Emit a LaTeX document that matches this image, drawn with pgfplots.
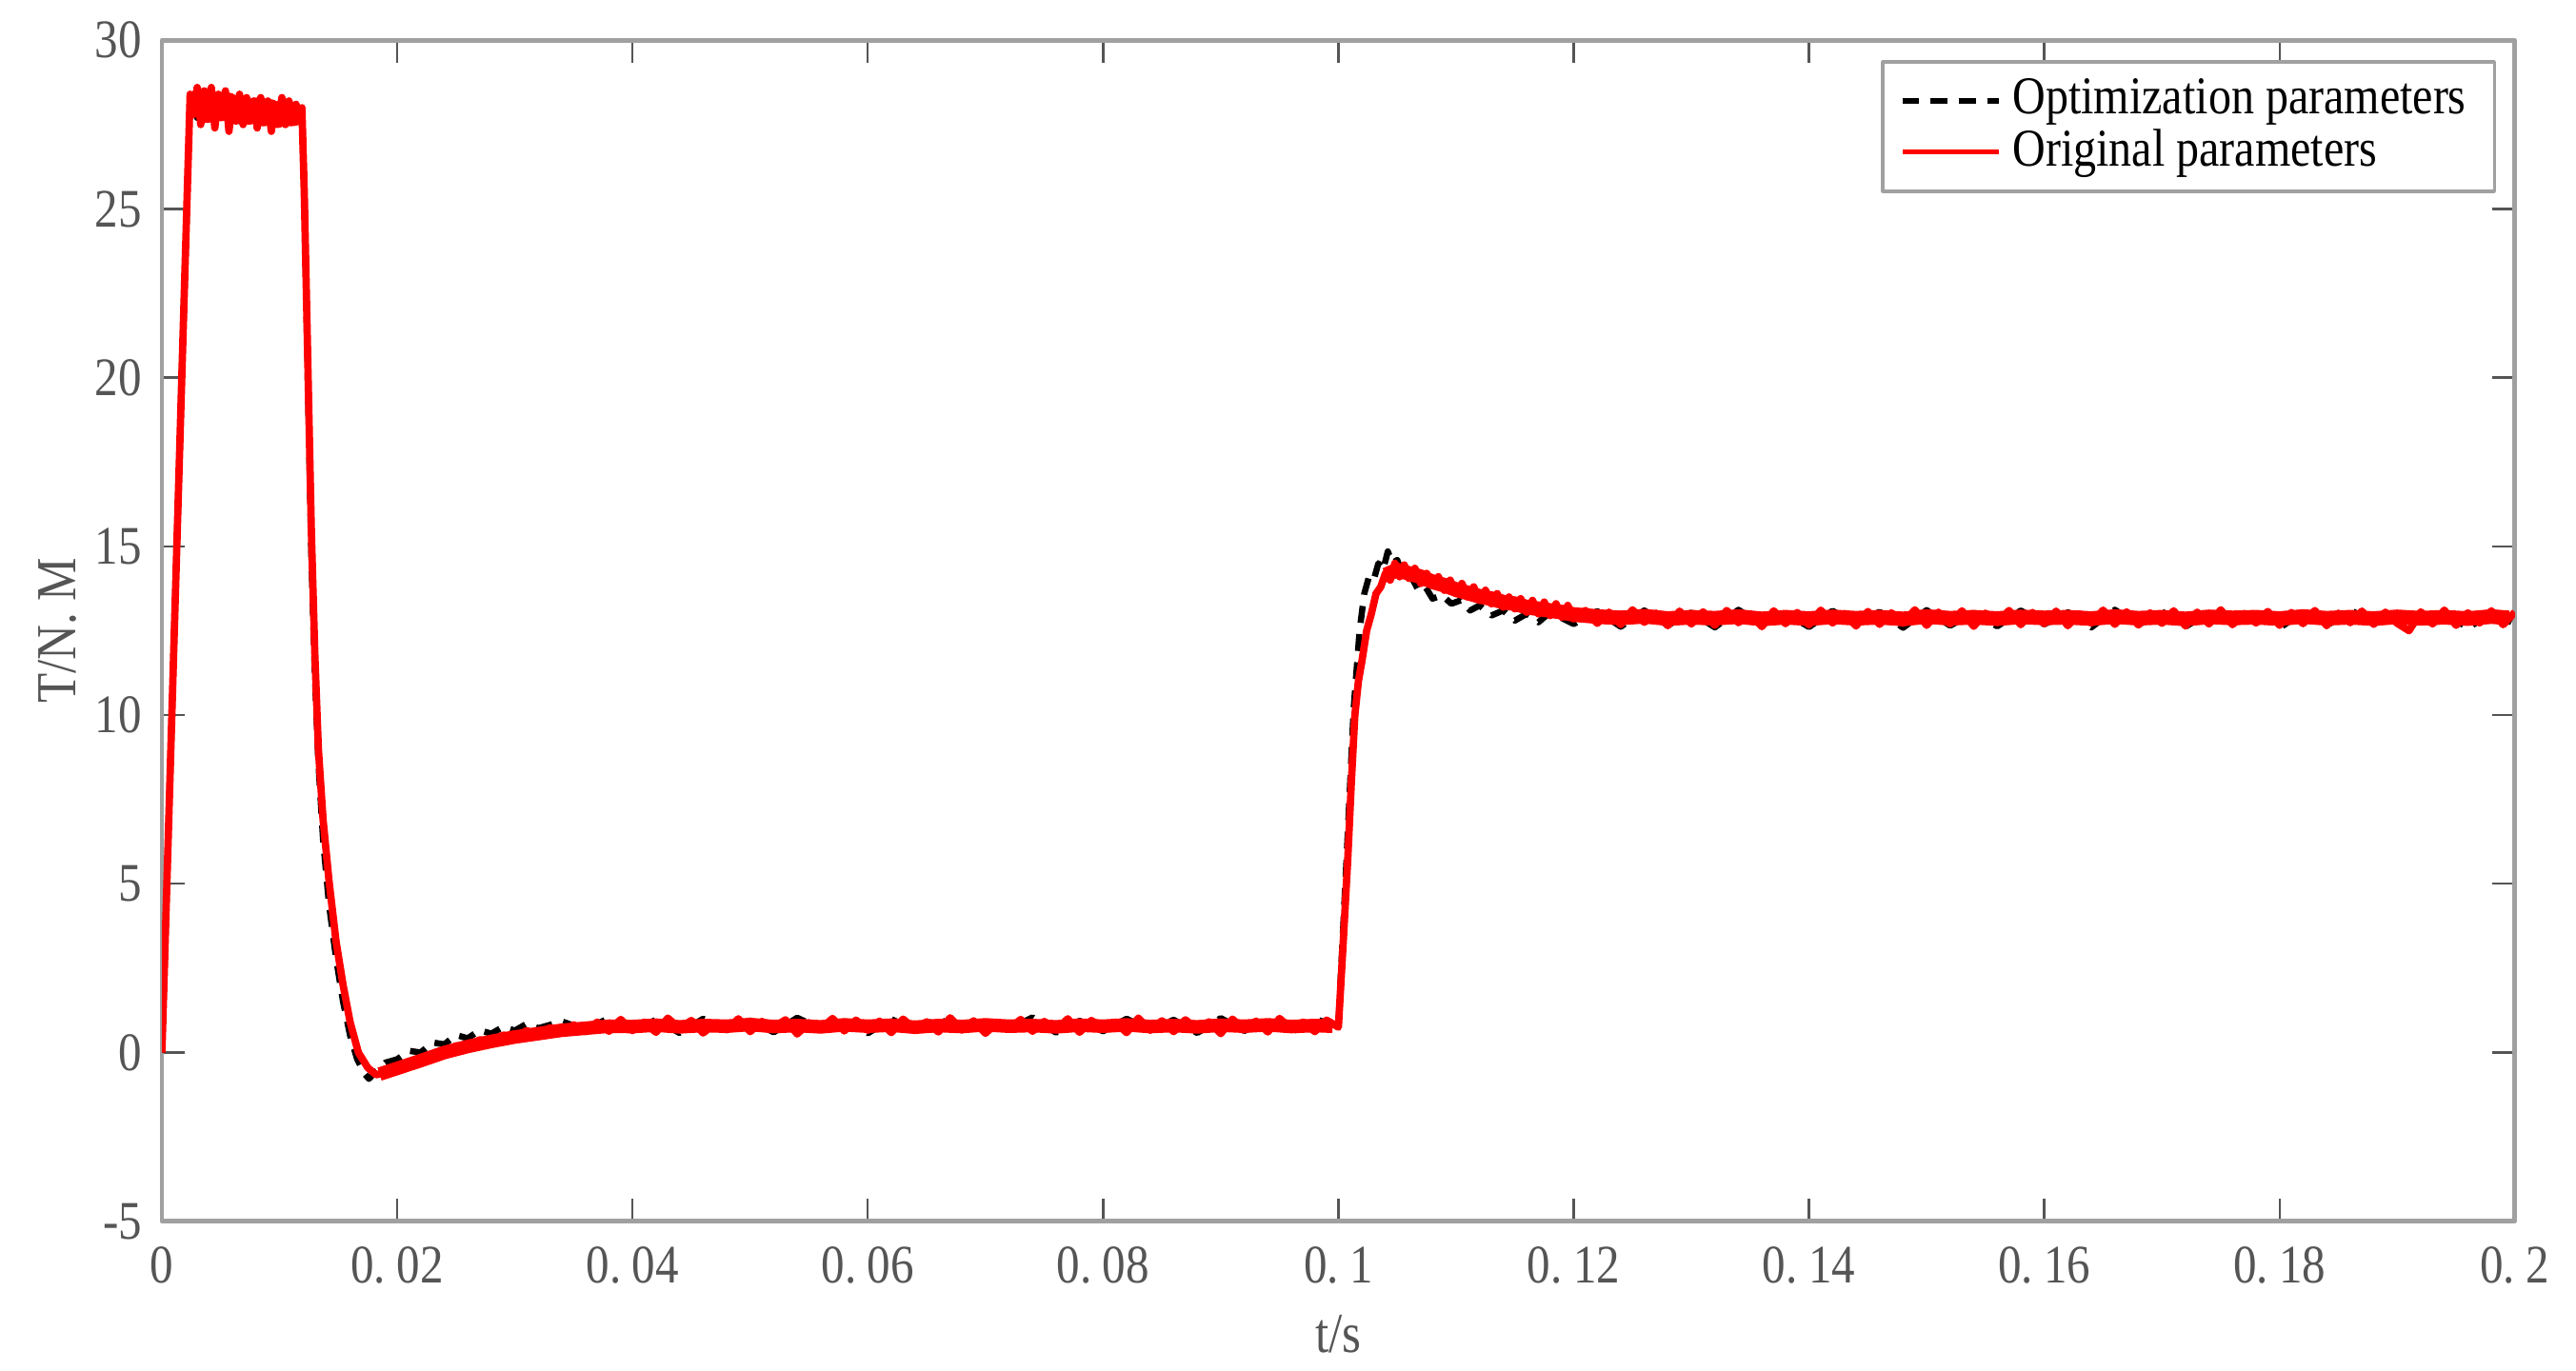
\documentclass[border=0pt]{standalone}
\usepackage{fontspec}
\setmainfont[FakeStretch=0.86]{Liberation Serif}
\usepackage{pgfplots}
\pgfplotsset{compat=1.18}
\definecolor{axgray}{RGB}{160,160,160}
\definecolor{lblgray}{RGB}{85,85,85}
\begin{document}
\begin{tikzpicture}
\begin{axis}[
  scale only axis, width=14.62cm, height=7.34cm,
  xmin=0, xmax=0.2, ymin=-5, ymax=30,
  xtick={0,0.02,...,0.2},
  xticklabels={0,0.\hspace{0.2em}02,0.\hspace{0.2em}04,0.\hspace{0.2em}06,0.\hspace{0.2em}08,0.\hspace{0.2em}1,0.\hspace{0.2em}12,0.\hspace{0.2em}14,0.\hspace{0.2em}16,0.\hspace{0.2em}18,0.\hspace{0.2em}2},
  ytick={-5,0,5,10,15,20,25,30},
  /pgf/number format/assume math mode=true,
  tick align=inside, tick pos=both, major tick length=0.14cm,
  axis line style={axgray, line width=0.8pt},
  tick style={lblgray, line width=0.4pt},
  tick label style={font=\fontsize{9.6}{11}\selectfont, text=lblgray},
  xticklabel style={yshift=-1pt},
  xlabel={t/s}, ylabel={T/N.\hspace{0.2em}M},
  label style={font=\fontsize{10}{12}\selectfont, text=lblgray},
  xlabel style={at={(axis description cs:0.5,-0.0954)}, anchor=center},
  ylabel style={at={(axis description cs:-0.0445,0.5)}, anchor=center},
  legend style={font=\fontsize{9.4}{11}\selectfont, at={(0.992,0.983)}, anchor=north east,
                draw=axgray, line width=0.6pt, fill=white, inner xsep=3pt, inner ysep=1pt,
                row sep=-2.9pt, cells={anchor=west}},
  legend image post style={line width=0.9pt},
  line join=round,
]
% optimization parameters (black, dashed)
\addplot[black, densely dashed, line width=1.1pt] coordinates {
(0,0) (0.0024,28.3) (0.003,27.7) (0.0036,28.5) (0.0042,27.6) (0.0048,28.4) (0.0054,27.7)
(0.006,28.3) (0.0066,27.6) (0.0072,28.2) (0.0078,27.7) (0.0084,28.2) (0.009,27.6)
(0.0096,28.1) (0.0102,27.7) (0.0108,28.1) (0.0114,27.7) (0.0119,28.0)
(0.0121,25.5) (0.0124,20.0) (0.0127,14.8) (0.0130,11.2) (0.0133,8.6) (0.0137,6.3)
(0.0142,4.4) (0.0148,2.8) (0.0154,1.5) (0.0160,0.5) (0.0166,-0.2) (0.0172,-0.62)
(0.0176,-0.78) (0.0182,-0.55) (0.019,-0.3)
(0.020,-0.2) (0.021,0.05) (0.022,0.0) (0.023,0.3) (0.024,0.24) (0.025,0.52) (0.026,0.42)
(0.027,0.66) (0.028,0.56) (0.029,0.76) (0.030,0.65) (0.031,0.85) (0.032,0.72) (0.034,0.92)
(0.036,0.68) (0.038,1.02) (0.040,0.64) (0.042,0.97) (0.044,0.58) (0.046,1.00) (0.048,0.66)
(0.050,0.95) (0.052,0.60) (0.054,1.03) (0.056,0.70) (0.058,0.92) (0.060,0.57) (0.062,0.99)
(0.064,0.65) (0.066,1.01) (0.068,0.61) (0.070,0.96) (0.072,0.69) (0.074,1.04) (0.076,0.59)
(0.078,0.94) (0.080,0.63) (0.082,1.00) (0.084,0.67) (0.086,0.97) (0.088,0.58) (0.090,1.02)
(0.092,0.64) (0.094,0.95) (0.096,0.60) (0.098,0.99) (0.1000,0.78)
(0.1007,5.8) (0.1013,10.2) (0.1018,12.5) (0.1022,13.6) (0.1026,14.1) (0.1030,14.0)
(0.1034,14.5) (0.1038,14.3) (0.1042,14.85) (0.1046,14.5) (0.1050,14.6) (0.1056,14.0)
(0.1062,14.1) (0.1068,13.7) (0.1074,13.8) (0.1080,13.45) (0.1088,13.55) (0.1096,13.3)
(0.1104,13.4) (0.1112,13.1) (0.1120,13.25) (0.1130,12.95) (0.1140,13.1) (0.1150,12.8)
(0.1160,13.0) (0.1170,12.75) (0.118,13.05) (0.120,12.7)
(0.122,13.08) (0.124,12.62) (0.126,13.1) (0.128,12.66) (0.130,13.04) (0.132,12.6)
(0.134,13.12) (0.136,12.68) (0.138,13.02) (0.140,12.61) (0.142,13.09) (0.144,12.7)
(0.146,13.06) (0.148,12.59) (0.150,13.11) (0.152,12.65) (0.154,13.03) (0.156,12.63)
(0.158,13.1) (0.160,12.69) (0.162,13.05) (0.164,12.6) (0.166,13.12) (0.168,12.67)
(0.170,13.07) (0.172,12.62) (0.174,13.04) (0.176,12.7) (0.178,13.1) (0.180,12.58)
(0.182,13.06) (0.184,12.64) (0.186,13.13) (0.188,12.68) (0.190,13.02) (0.192,12.61)
(0.194,13.08) (0.196,12.57) (0.198,13.05) (0.200,12.7)
};
\addlegendentry{Optimization parameters}
% original parameters (red)
\addplot[red, line width=1.3pt] coordinates {
(0,0) (0.0024,28.4) (0.0027,27.8) (0.0030,28.6) (0.0033,27.5) (0.0036,28.5) (0.0039,27.7)
(0.0042,28.6) (0.0045,27.4) (0.0048,28.4) (0.0051,27.9) (0.0054,28.5) (0.0057,27.3)
(0.0060,28.3) (0.0063,27.6) (0.0066,28.4) (0.0069,27.5) (0.0072,28.3) (0.0075,27.8)
(0.0078,28.2) (0.0081,27.4) (0.0084,28.3) (0.0087,27.6) (0.0090,28.2) (0.0093,27.3)
(0.0096,28.1) (0.0099,27.6) (0.0102,28.3) (0.0105,27.5) (0.0108,28.2) (0.0111,27.7)
(0.0114,28.1) (0.0117,27.6) (0.0119,28.0)
(0.0121,25.5) (0.0124,20.5) (0.0127,15.5) (0.0130,11.8) (0.0133,9.0) (0.0137,6.9)
(0.0142,5.1) (0.0148,3.3) (0.0154,2.0) (0.0160,0.9) (0.0167,0.0) (0.0175,-0.45)
(0.0182,-0.66) (0.0190,-0.6) (0.0200,-0.45) (0.021,-0.30) (0.022,-0.22) (0.023,-0.05)
(0.024,0.00) (0.025,0.20) (0.026,0.15) (0.027,0.38) (0.028,0.30) (0.029,0.52) (0.030,0.42)
(0.031,0.65) (0.032,0.50) (0.033,0.74) (0.034,0.58) (0.035,0.82) (0.036,0.62) (0.037,0.90)
(0.038,0.63) (0.039,0.98) (0.040,0.65) (0.041,0.90) (0.042,0.60) (0.043,1.02) (0.044,0.72)
(0.045,0.95) (0.046,0.58) (0.047,0.85) (0.048,0.68) (0.049,1.00) (0.050,0.62) (0.051,0.92)
(0.052,0.75) (0.053,0.97) (0.054,0.55) (0.055,0.88) (0.056,0.70) (0.057,1.01) (0.058,0.64)
(0.059,0.96) (0.060,0.66) (0.061,0.93) (0.062,0.59) (0.063,0.99) (0.064,0.70) (0.065,0.91)
(0.066,0.61) (0.067,1.03) (0.068,0.67) (0.069,0.94) (0.070,0.57) (0.071,0.89) (0.072,0.71)
(0.073,0.98) (0.074,0.63) (0.075,0.92) (0.076,0.68) (0.077,1.00) (0.078,0.60) (0.079,0.95)
(0.080,0.73) (0.081,0.90) (0.082,0.59) (0.083,1.02) (0.084,0.66) (0.085,0.94) (0.086,0.62)
(0.087,0.97) (0.088,0.69) (0.089,0.91) (0.090,0.56) (0.091,0.99) (0.092,0.67) (0.093,0.93)
(0.094,0.61) (0.095,1.01) (0.096,0.70) (0.097,0.90) (0.098,0.62) (0.099,0.96) (0.1000,0.75)
(0.1004,3.2) (0.1008,5.75) (0.1011,8.0) (0.1014,10.0) (0.1017,11.0) (0.1020,11.6)
(0.1024,12.5) (0.1028,13.0) (0.1032,13.6) (0.1036,13.8) (0.1040,14.2) (0.1044,14.0)
(0.1048,14.5) (0.1052,14.1) (0.1056,14.45) (0.1060,14.05) (0.1065,14.35) (0.1070,13.9)
(0.1075,14.2) (0.1080,13.85) (0.1085,14.1) (0.1090,13.7) (0.1095,14.0) (0.1100,13.6)
(0.1105,13.9) (0.1110,13.5) (0.1115,13.8) (0.1120,13.4) (0.1125,13.7) (0.1130,13.3)
(0.1135,13.6) (0.1140,13.2) (0.1145,13.5) (0.1150,13.15) (0.1155,13.45) (0.1160,13.05)
(0.1165,13.4) (0.1170,13.0) (0.1175,13.35) (0.1180,12.95) (0.1185,13.3) (0.1190,12.9)
(0.1195,13.25) (0.1200,12.85)
(0.121,13.10) (0.122,12.72) (0.123,13.05) (0.124,12.68) (0.125,13.12) (0.126,12.75)
(0.127,13.02) (0.128,12.65) (0.129,13.08) (0.130,12.70) (0.131,13.06) (0.132,12.66)
(0.133,13.10) (0.134,12.74) (0.135,13.00) (0.136,12.62) (0.137,13.09) (0.138,12.71)
(0.139,13.04) (0.140,12.67) (0.141,13.11) (0.142,12.73) (0.143,13.01) (0.144,12.64)
(0.145,13.07) (0.146,12.69) (0.147,13.03) (0.148,12.72) (0.149,13.12) (0.150,12.66)
(0.151,13.05) (0.152,12.70) (0.153,13.09) (0.154,12.63) (0.155,13.02) (0.156,12.74)
(0.157,13.10) (0.158,12.68) (0.159,13.04) (0.160,12.71) (0.161,13.08) (0.162,12.65)
(0.163,13.00) (0.164,12.73) (0.165,13.11) (0.166,12.69) (0.167,13.06) (0.168,12.67)
(0.169,13.03) (0.170,12.72) (0.171,13.09) (0.172,12.64) (0.173,13.05) (0.174,12.70)
(0.175,13.12) (0.176,12.68) (0.177,13.01) (0.178,12.73) (0.179,13.07) (0.180,12.66)
(0.181,13.04) (0.182,12.71) (0.183,13.10) (0.184,12.65) (0.185,13.02) (0.186,12.74)
(0.187,13.08) (0.188,12.69) (0.189,13.05) (0.190,12.72) (0.191,12.50) (0.192,13.06)
(0.193,12.70) (0.194,13.11) (0.195,12.66) (0.196,13.03) (0.197,12.73) (0.198,13.09)
(0.199,12.68) (0.200,13.05)
};
\addlegendentry{Original parameters\rule[-10.5pt]{0pt}{0pt}}
% dense noise band of the red trace (centre line of the band)
\addplot[red, line width=4.2pt, forget plot] coordinates {
(0.0026,28.1) (0.0032,28.2) (0.0038,27.9) (0.0044,28.1) (0.0050,27.95) (0.0056,28.1)
(0.0062,27.9) (0.0068,28.0) (0.0074,27.85) (0.0080,27.95) (0.0086,27.8) (0.0092,27.9)
(0.0098,27.75) (0.0104,27.9) (0.0110,27.8) (0.0117,27.85)
};
\addplot[red, line width=2.4pt, forget plot] coordinates {
(0.0185,-0.64) (0.020,-0.47) (0.022,-0.24) (0.024,0.0) (0.026,0.18) (0.028,0.33)
(0.030,0.46) (0.032,0.56) (0.034,0.66) (0.036,0.72) (0.038,0.78) (0.040,0.77) (0.042,0.81)
(0.044,0.76) (0.046,0.80) (0.048,0.78)
(0.050,0.83) (0.052,0.77) (0.054,0.80) (0.056,0.76) (0.058,0.82) (0.060,0.78) (0.062,0.81)
(0.064,0.75) (0.066,0.80) (0.068,0.77) (0.070,0.82) (0.072,0.78) (0.074,0.80) (0.076,0.76)
(0.078,0.81) (0.080,0.78) (0.082,0.82) (0.084,0.77) (0.086,0.80) (0.088,0.76) (0.090,0.81)
(0.092,0.78) (0.094,0.82) (0.096,0.77) (0.098,0.80) (0.0995,0.78)
};
\addplot[red, line width=2.6pt, forget plot] coordinates {
(0.1040,14.15) (0.1050,14.3) (0.1060,14.2) (0.1070,14.1) (0.1080,13.95) (0.1090,13.85)
(0.1100,13.72) (0.1110,13.62) (0.1120,13.52) (0.1130,13.45) (0.1140,13.35) (0.1150,13.3)
(0.1160,13.2) (0.1170,13.15) (0.1180,13.1) (0.1190,13.05)
(0.120,12.98) (0.122,12.92) (0.124,12.88) (0.126,12.93) (0.128,12.86) (0.130,12.9)
(0.132,12.87) (0.134,12.92) (0.136,12.85) (0.138,12.9) (0.140,12.86) (0.142,12.91)
(0.144,12.87) (0.146,12.9) (0.148,12.85) (0.150,12.92) (0.152,12.87) (0.154,12.9)
(0.156,12.86) (0.158,12.91) (0.160,12.88) (0.162,12.9) (0.164,12.86) (0.166,12.92)
(0.168,12.87) (0.170,12.9) (0.172,12.85) (0.174,12.91) (0.176,12.88) (0.178,12.9)
(0.180,12.86) (0.182,12.92) (0.184,12.87) (0.186,12.9) (0.188,12.86) (0.190,12.91)
(0.192,12.87) (0.194,12.9) (0.196,12.86) (0.198,12.92) (0.1995,12.88)
};
\coordinate (bl) at (rel axis cs:0,0);
\coordinate (tr) at (rel axis cs:1,1);
\end{axis}
\pgfresetboundingbox
\path ([shift={(-1.006cm,-0.93cm)}]bl) rectangle ([shift={(0.38cm,0.25cm)}]tr);
\end{tikzpicture}
\end{document}
